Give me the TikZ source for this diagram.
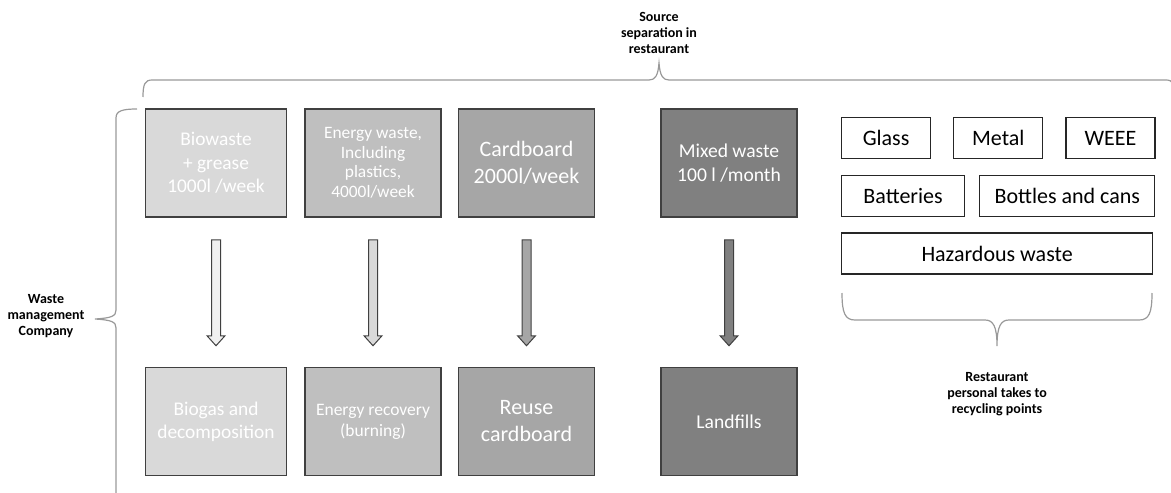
\documentclass[tikz,border=0pt]{standalone}
\usepackage{fontspec}
\setmainfont{Carlito}
\usetikzlibrary{positioning, calc}

% block arrow from one bin to its destination
\newcommand{\wastearrow}[3]{%
  \draw[blockarrow, fill=#3]
    let \p1 = (#1.south), \p2 = (#2.north) in
    (\x1-2.25pt,\y1-11pt) -- (\x1+2.25pt,\y1-11pt) -- (\x1+2.25pt,\y2+15.5pt)
    -- (\x1+4.5pt,\y2+15.5pt) -- (\x1,\y2+10.5pt) -- (\x1-4.5pt,\y2+15.5pt)
    -- (\x1-2.25pt,\y2+15.5pt) -- cycle;}

\begin{document}
\begin{tikzpicture}[
      x=0.5pt, y=-0.5pt,
      bin/.style={
        draw=black!75,
        line width=0.75pt,
        minimum width=68pt,
        minimum height=54pt,
        inner sep=1pt,
        align=center,
        text=white
      },
      dropoff/.style={
        draw=black!85,
        line width=0.6pt,
        fill=white,
        minimum height=20.5pt,
        inner sep=0pt,
        font=\fontsize{11}{13}\selectfont
      },
      lbl/.style={font=\bfseries\fontsize{7}{8}\selectfont, align=center},
      bracket/.style={draw=black!40, line width=0.6pt},
      blockarrow/.style={draw=black!75, line width=0.5pt, line join=miter}
    ]
    \useasboundingbox (0,0) rectangle (1171,492);

    % Bins in the restaurant
    \node[bin, fill=black!15, minimum width=70.5pt, font=\fontsize{9.7}{11.75}\selectfont] (bio) at (216,163) {Biowaste\\+ grease\\1000l /week};
    \node[bin, fill=black!25, right=8.5pt of bio, font=\fontsize{8.7}{9.75}\selectfont] (energy) {Energy waste,\\Including\\plastics,\\4000l/week};
    \node[bin, fill=black!35, right=8pt of energy, font=\fontsize{11}{13.5}\selectfont] (cardboard) {Cardboard\\2000l/week};
    \node[bin, fill=black!50, right=32.5pt of cardboard, font=\fontsize{9.8}{11.85}\selectfont] (mixed) {Mixed waste\\100 l /month};

    % Treatment by the waste management company
    \node[bin, fill=black!15, minimum width=70.5pt, below=74.5pt of bio, font=\fontsize{9.7}{11.4}\selectfont] (biogas) {Biogas and\\decomposition};
    \node[bin, fill=black!25, below=74.5pt of energy, font=\fontsize{8.75}{10.5}\selectfont] (recovery) {Energy recovery\\(burning)};
    \node[bin, fill=black!35, below=74.5pt of cardboard, font=\fontsize{11}{13.5}\selectfont] (reuse) {Reuse\\cardboard};
    \node[bin, fill=black!50, below=74.5pt of mixed, font=\fontsize{9.8}{11.85}\selectfont] (landfill) {Landfills};

    \wastearrow{bio}{biogas}{black!6}
    \wastearrow{energy}{recovery}{black!15}
    \wastearrow{cardboard}{reuse}{black!35}
    \wastearrow{mixed}{landfill}{black!50}

    % Recycling points
    \node[dropoff, minimum width=44.5pt, anchor=north west] (glass) at (841,117) {Glass};
    \node[dropoff, minimum width=44.5pt, right=11pt of glass] (metal) {Metal};
    \node[dropoff, minimum width=44.5pt, right=11pt of metal] (weee) {WEEE};
    \node[dropoff, minimum width=61.5pt, below=8pt of glass.south west, anchor=north west] (batteries) {Batteries};
    \node[dropoff, minimum width=87.5pt, right=7pt of batteries] (bottles) {Bottles and cans};
    \node[dropoff, minimum width=155.5pt, below=7.5pt of batteries.south west, anchor=north west] (hazardous) {Hazardous waste};

    % Braces and their labels
    \draw[bracket] (143,97) .. controls (143,84) and (145,80) .. (152,80) -- (649,80)
      .. controls (655,80) and (658,76) .. (659,63) .. controls (660,76) and (663,80) .. (669,80)
      -- (1166,80) .. controls (1173,80) and (1175,84) .. (1175,97);
    \draw[bracket] (137,109) .. controls (122,109) and (116,111) .. (116,118) -- (116,310)
      .. controls (116,316) and (112,318) .. (95,319) .. controls (112,320) and (116,322) .. (116,328)
      -- (116,520);
    \draw[bracket] (842,293) .. controls (842,313) and (845,320) .. (855,320) -- (985,320)
      .. controls (993,320) and (997,326) .. (997,346) .. controls (997,326) and (1001,320) .. (1009,320)
      -- (1139,320) .. controls (1149,320) and (1152,313) .. (1152,293);

    \node[lbl] (sourcelbl) at (659,33) {Source\\separation in\\restaurant};
    \node[lbl] (companylbl) at (46,316) {Waste\\management\\Company};
    \node[lbl] (personallbl) at (997,394) {Restaurant\\personal takes to\\recycling points};

  \end{tikzpicture}
\end{document}
